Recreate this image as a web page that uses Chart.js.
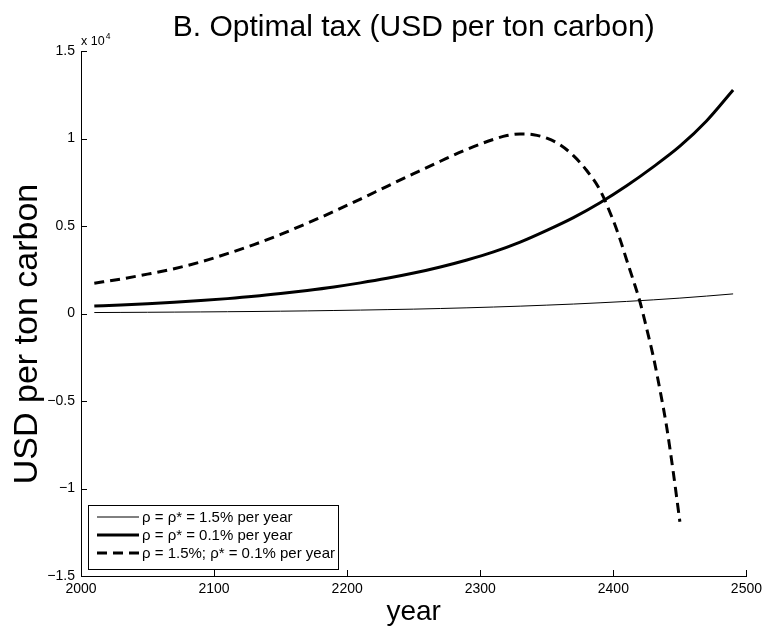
<!DOCTYPE html>
<html>
<head>
<meta charset="utf-8">
<script src="https://cdn.jsdelivr.net/npm/chart.js@4/dist/chart.umd.min.js"></script>
<style>
  html, body { margin: 0; padding: 0; background: #fff; }
  #wrap { width: 767px; height: 631px; }
</style>
</head>
<body>
<div id="wrap"><canvas id="c" width="767" height="631"></canvas></div>
<script>
// Years and optimal carbon tax paths (USD per ton carbon)
const yearsLong = [2010, 2030, 2050, 2070, 2090, 2110, 2130, 2150, 2170, 2190, 2210, 2230, 2250,
                   2270, 2290, 2310, 2330, 2350, 2370, 2390, 2410, 2430, 2450, 2470, 2490];
const taxHighRate = [55, 62, 70, 80, 90, 102, 115, 132, 150, 172, 195, 222, 250,
                     285, 325, 370, 420, 478, 540, 612, 690, 780, 880, 995, 1120];
const taxLowRate = [430, 490, 560, 640, 740, 850, 980, 1140, 1320, 1520, 1750, 2010, 2310,
                    2660, 3060, 3520, 4080, 4750, 5480, 6330, 7300, 8380, 9560, 11000, 12770];
const yearsMixed = [2010, 2030, 2050, 2070, 2090, 2110, 2130, 2150, 2170, 2190, 2210, 2230, 2250,
                    2270, 2290, 2310, 2320, 2330, 2340, 2350, 2360, 2370, 2380, 2390, 2400, 2405,
                    2410, 2415, 2420, 2425, 2430, 2435, 2440, 2445, 2450];
const taxMixed = [1730, 1970, 2250, 2560, 2950, 3420, 3940, 4520, 5160, 5830, 6540, 7270, 7990,
                  8700, 9380, 9950, 10170, 10260, 10220, 10020, 9640, 9020, 8170, 7050, 5300, 4250,
                  3060, 1900, 670, -850, -2450, -4350, -6450, -9050, -11900];

const seriesLabels = ['ρ = ρ* = 1.5% per year', 'ρ = ρ* = 0.1% per year', 'ρ = 1.5%; ρ* = 0.1% per year'];
const xTicks = [2000, 2100, 2200, 2300, 2400, 2500];
const yTicks = [-15000, -10000, -5000, 0, 5000, 10000, 15000];
const titleText = 'B. Optimal tax (USD per ton carbon)';
const yTitleText = 'USD per ton carbon';

const toPoints = (xs, ys) => xs.map((x, i) => ({ x: x, y: ys[i] }));
const FONT = '"Liberation Sans", Arial, Helvetica, sans-serif';

// Title, rotated y label, inward tick marks, exponent note and boxed legend
const decorations = {
  id: 'decorations',
  afterDraw(chart) {
    const ctx = chart.ctx;
    const xs = chart.scales.x, ys = chart.scales.y;
    const area = chart.chartArea;
    const L = 6;
    ctx.save();

    // title centred over the plot area
    ctx.fillStyle = '#000';
    ctx.font = '30px ' + FONT;
    ctx.textAlign = 'center';
    ctx.textBaseline = 'middle';
    ctx.fillText(titleText, (area.left + area.right) / 2, 28);

    // y axis label
    ctx.save();
    ctx.translate(28, 334);
    ctx.rotate(-Math.PI / 2);
    ctx.font = '34px ' + FONT;
    ctx.fillText(yTitleText, 0, 0);
    ctx.restore();

    ctx.strokeStyle = '#000';
    ctx.lineWidth = 1;
    ctx.beginPath();
    xTicks.forEach(v => {
      const px = Math.round(xs.getPixelForValue(v)) + 0.5;
      ctx.moveTo(px, area.bottom);
      ctx.lineTo(px, area.bottom - L);
    });
    yTicks.forEach(v => {
      const py = Math.round(ys.getPixelForValue(v)) + 0.5;
      ctx.moveTo(area.left, py);
      ctx.lineTo(area.left + L, py);
    });
    ctx.stroke();

    // exponent of the y axis
    ctx.textBaseline = 'alphabetic';
    ctx.textAlign = 'left';
    ctx.font = '12.5px ' + FONT;
    ctx.fillText('x 10', area.left, area.top - 6);
    const w = ctx.measureText('x 10').width;
    ctx.font = '8.5px ' + FONT;
    ctx.fillText('4', area.left + w + 1, area.top - 12);

    // legend box
    const bx = 88.5, by = 505.5, bw = 250, bh = 64;
    ctx.fillStyle = '#fff';
    ctx.fillRect(bx, by, bw, bh);
    ctx.strokeStyle = '#000';
    ctx.lineWidth = 1;
    ctx.strokeRect(bx, by, bw, bh);
    ctx.font = '15px ' + FONT;
    ctx.textBaseline = 'middle';
    chart.data.datasets.forEach((ds, i) => {
      const yy = 517 + i * 18;
      ctx.save();
      ctx.strokeStyle = ds.borderColor;
      ctx.lineWidth = ds.borderWidth;
      ctx.setLineDash(ds.borderDash || []);
      ctx.beginPath();
      ctx.moveTo(97, yy);
      ctx.lineTo(139, yy);
      ctx.stroke();
      ctx.restore();
      ctx.fillStyle = '#000';
      ctx.fillText(ds.label, 142, yy + 1);
    });
    ctx.restore();
  }
};

new Chart(document.getElementById('c'), {
  type: 'line',
  data: {
    datasets: [
      { label: seriesLabels[0], data: toPoints(yearsLong, taxHighRate),
        borderColor: '#000', borderWidth: 1, pointRadius: 0, cubicInterpolationMode: 'monotone' },
      { label: seriesLabels[1], data: toPoints(yearsLong, taxLowRate),
        borderColor: '#000', borderWidth: 3, pointRadius: 0, cubicInterpolationMode: 'monotone' },
      { label: seriesLabels[2], data: toPoints(yearsMixed, taxMixed),
        borderColor: '#000', borderWidth: 3, borderDash: [10, 6], pointRadius: 0,
        cubicInterpolationMode: 'monotone' }
    ]
  },
  options: {
    responsive: false,
    animation: false,
    events: [],
    layout: { padding: { left: 0, right: 19, top: 51, bottom: 0 } },
    plugins: {
      legend: { display: false },
      tooltip: { enabled: false },
      title: { display: false }
    },
    scales: {
      x: {
        type: 'linear',
        min: 2000, max: 2500,
        afterBuildTicks: s => { s.ticks = xTicks.map(v => ({ value: v })); },
        afterFit: s => { s.height = 55; },
        grid: { display: false, drawTicks: false },
        border: { display: true, color: '#000', width: 1 },
        ticks: { color: '#000', padding: 5, maxRotation: 0, font: { family: FONT, size: 14 },
                 callback: v => String(v) },
        title: { display: true, text: 'year', color: '#000', padding: { top: 0, bottom: 2 },
                 font: { family: FONT, size: 28 } }
      },
      y: {
        type: 'linear',
        min: -15000, max: 15000,
        afterBuildTicks: s => { s.ticks = yTicks.map(v => ({ value: v })); },
        afterFit: s => { s.width = 81; },
        grid: { display: false, drawTicks: false },
        border: { display: true, color: '#000', width: 1 },
        ticks: { color: '#000', padding: 6,
                 font: { family: FONT, size: 14 },
                 callback: v => (v / 10000).toString().replace('-', '\u2212') },
        title: { display: false }
      }
    }
  },
  plugins: [decorations]
});
</script>
</body>
</html>
